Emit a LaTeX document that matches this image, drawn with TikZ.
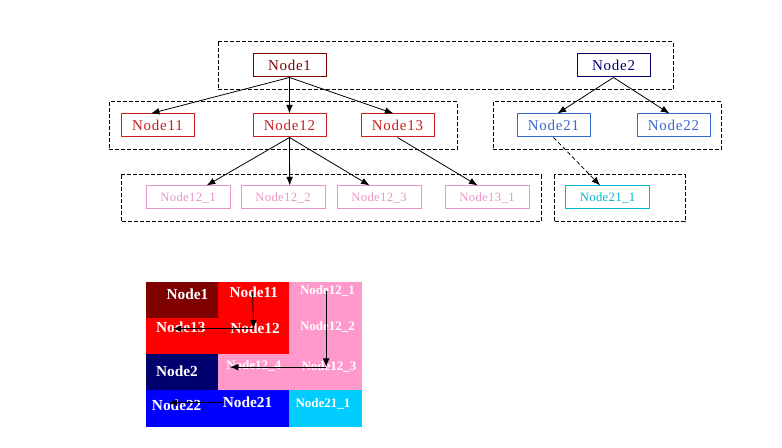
\documentclass[tikz,border=0pt]{standalone}
\usepackage{fontspec}
\setmainfont{Liberation Serif}
\usetikzlibrary{positioning, arrows.meta, calc}

\definecolor{darkred}{RGB}{128,0,0}
\definecolor{midred}{RGB}{200,30,30}
\definecolor{deepnavy}{RGB}{0,0,110}
\definecolor{softblue}{RGB}{55,105,200}
\definecolor{softpink}{RGB}{230,150,200}
\definecolor{softcyan}{RGB}{0,180,210}
\definecolor{cellpink}{RGB}{255,153,204}
\definecolor{cellcyan}{RGB}{0,204,255}

\begin{document}
\begin{tikzpicture}[x=0.75pt, y=-0.75pt,
    box/.style={draw, line width=0.75pt, inner sep=0pt, minimum width=54.75pt, minimum height=17.25pt, font=\fontsize{11.25}{13}\selectfont\addfontfeature{LetterSpace=5}},
    leaf/.style={box, minimum width=63pt, font=\fontsize{9.5}{11}\selectfont\addfontfeature{LetterSpace=3}},
    group/.style={draw, line width=0.75pt, dash pattern=on 3pt off 1.5pt},
    link/.style={line width=0.6pt, -{Latex[length=6.5pt, width=5pt]}},
    celltext/.style={text=white, inner sep=0pt, anchor=base, font=\fontsize{11.5}{13}\selectfont\bfseries},
    smallcell/.style={celltext, font=\fontsize{9.75}{11}\selectfont\bfseries}]
  \useasboundingbox (0,0) rectangle (782,448);

  % groups
  \draw[group] (218,42) rectangle (673,90);
  \draw[group] (109,102) rectangle (457,150);
  \draw[group] (493,102) rectangle (721,150);
  \draw[group] (121,175) rectangle (541,222);
  \draw[group] (554,175) rectangle (685,222);

  % tree
  \node[box, draw=darkred, text=darkred] (n1) at (289.5,65.5) {Node1};
  \node[box, draw=deepnavy, text=deepnavy] (n2) at (613.5,65.5) {Node2};
  \node[box, draw=midred, text=midred] (n11) at (157.5,125.5) {Node11};
  \node[box, draw=midred, text=midred] (n12) at (289.5,125.5) {Node12};
  \node[box, draw=midred, text=midred] (n13) at (397.5,125.5) {Node13};
  \node[box, draw=softblue, text=softblue] (n21) at (553.5,125.5) {Node21};
  \node[box, draw=softblue, text=softblue] (n22) at (673.5,125.5) {Node22};
  \node[leaf, draw=softpink, text=softpink] (n121) at (188,197.5) {Node12\_1};
  \node[leaf, draw=softpink, text=softpink] (n122) at (283,197.5) {Node12\_2};
  \node[leaf, draw=softpink, text=softpink] (n123) at (379,197.5) {Node12\_3};
  \node[leaf, draw=softpink, text=softpink] (n131) at (487,197.5) {Node13\_1};
  \node[leaf, draw=softcyan, text=softcyan] (n211) at (607.5,197.5) {Node21\_1};

  \draw[link] (n1.south) -- ([xshift=-5pt]n11.north);
  \draw[link] (n1.south) -- (n12.north);
  \draw[link] (n1.south) -- ([xshift=-3pt]n13.north);
  \draw[link] (n2.south) -- ([xshift=3pt]n21.north);
  \draw[link] (n2.south) -- ([xshift=-3pt]n22.north);
  \draw[link] (n12.south) -- ([xshift=14pt]n121.north);
  \draw[link] (n12.south) -- ([xshift=5pt]n122.north);
  \draw[link] (n12.south) -- ([xshift=-7pt]n123.north);
  \draw[link] (n13.south) -- ([xshift=-7pt]n131.north);
  \draw[link, dash pattern=on 3pt off 2pt] (n21.south) -- ([xshift=-5.5pt]n211.north);

  % treemap
  \fill[darkred] (146,282) rectangle (218,318);
  \fill[red] (218,282) rectangle (289,318);
  \fill[red] (146,318) rectangle (289,354);
  \fill[cellpink] (289,282) rectangle (362,354);
  \fill[cellpink] (218,354) rectangle (362,390);
  \fill[deepnavy] (146,354) rectangle (218,390);
  \fill[blue] (146,390) rectangle (289,427);
  \fill[cellcyan] (289,390) rectangle (362,427);

  \node[celltext] (t1) at (187.5,300) {Node1};
  \node[celltext] (t11) at (253.8,298) {Node11};
  \node[smallcell] (t121) at (327.5,295) {Node12\_1};
  \node[celltext] (t13) at (180.8,333) {Node13};
  \node[celltext] (t12) at (255,334) {Node12};
  \node[smallcell] (t122) at (327.5,330.7) {Node12\_2};
  \node[celltext] (t2) at (177,376.7) {Node2};
  \node[smallcell] (t124) at (253.8,370) {Node12\_4};
  \node[smallcell] (t123) at (329,370.7) {Node12\_3};
  \node[celltext] (t22) at (176.7,410.7) {Node22};
  \node[celltext] (t21) at (247.5,408) {Node21};
  \node[smallcell] (t211) at (323,407.7) {Node21\_1};

  \draw[link] ([xshift=-1pt]t11.center) -- ([xshift=-1pt]t12.center);
  \draw[link] ([xshift=-1pt]t12.center) -- ([xshift=-6pt]t13.center |- t12.center);
  \draw[link] ([xshift=-1pt]t121.center) -- ([xshift=-1pt]t121.center |- t123.center);
  \draw[link] ([xshift=-2.25pt]t123.center) -- ([xshift=-18pt]t124.center |- t123.center);
  \draw[link] (t21.west) -- ([xshift=-6pt]t22.center |- t21.west);
\end{tikzpicture}
\end{document}
